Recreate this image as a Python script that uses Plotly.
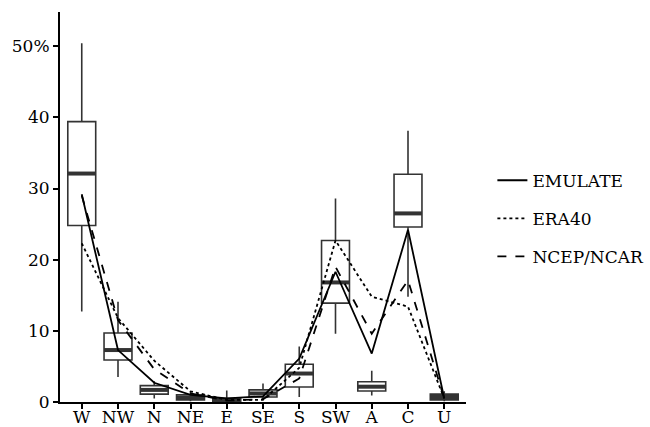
import plotly.graph_objects as go

categories = ["W", "NW", "N", "NE", "E", "SE", "S", "SW", "A", "C", "U"]

# Box statistics (percent)
box_low = [12.7, 3.5, 0.5, 0.1, 0.0, 0.3, 0.7, 9.6, 0.9, 14.8, 0.1]
box_q1 = [24.8, 5.9, 1.1, 0.3, 0.1, 0.7, 2.1, 13.9, 1.55, 24.6, 0.3]
box_med = [32.1, 7.3, 1.7, 0.6, 0.3, 1.2, 4.0, 16.8, 2.15, 26.5, 0.7]
box_q3 = [39.4, 9.7, 2.3, 1.0, 0.5, 1.7, 5.3, 22.7, 2.85, 32.0, 1.1]
box_high = [50.4, 14.1, 2.9, 1.5, 1.6, 2.6, 7.8, 28.6, 4.4, 38.1, 1.5]

# Series values (percent)
emulate = [29.2, 7.3, 2.7, 1.0, 0.5, 0.8, 6.1, 18.3, 6.8, 24.2, 0.5]
era40 = [22.3, 11.8, 5.8, 1.5, 0.3, 0.3, 4.8, 22.7, 14.8, 13.4, 0.5]
ncep = [29.0, 11.5, 4.6, 1.2, 0.2, 0.4, 3.3, 19.0, 9.6, 17.1, 0.5]

y_ticks = [0, 10, 20, 30, 40, 50]
y_ticktext = ["0", "10", "20", "30", "40", "50%"]

xs = list(range(len(categories)))
BOX_W = 0.77
FONT = "DejaVu Serif"

fig = go.Figure()

fig.add_trace(go.Box(
    x=xs, q1=box_q1, median=box_med, q3=box_q3,
    lowerfence=box_low, upperfence=box_high,
    width=BOX_W, whiskerwidth=0, boxpoints=False,
    fillcolor="white", line=dict(color="#333333", width=1.6),
    showlegend=False, hoverinfo="skip",
))

# thick median bars
mx, my = [], []
for i, m in zip(xs, box_med):
    mx += [i - BOX_W / 2, i + BOX_W / 2, None]
    my += [m, m, None]
fig.add_trace(go.Scatter(x=mx, y=my, mode="lines",
                         line=dict(color="#333333", width=4),
                         showlegend=False, hoverinfo="skip"))

for name, vals, dash, g in [("EMULATE", emulate, "solid", "a"),
                            ("ERA40", era40, "dot", "b"),
                            ("NCEP/NCAR", ncep, "dash", "c")]:
    fig.add_trace(go.Scatter(x=xs, y=vals, mode="lines", name=name,
                             legendgroup=g,
                             line=dict(color="black", width=1.8, dash=dash)))

fig.update_layout(
    width=650, height=427,
    margin=dict(l=60, r=184, t=12, b=25, autoexpand=False),
    paper_bgcolor="white", plot_bgcolor="white",
    font=dict(family=FONT, size=17, color="black"),
    showlegend=True,
    legend=dict(x=1.065, xanchor="left", y=0.47, yanchor="middle",
                font=dict(family=FONT, size=17, color="black"),
                tracegroupgap=13, bgcolor="rgba(0,0,0,0)"),
    xaxis=dict(range=[-0.6, 10.6], tickvals=xs, ticktext=categories,
               showline=True, linecolor="black", linewidth=2,
               ticks="outside", ticklen=5, tickwidth=1.5, tickcolor="black",
               showgrid=False, zeroline=False, fixedrange=True,
               automargin=False, ticklabelstandoff=-6,
               tickfont=dict(family=FONT, size=17)),
    yaxis=dict(range=[0, 54.8], tickvals=y_ticks, ticktext=y_ticktext,
               showline=True, linecolor="black", linewidth=2,
               ticks="outside", ticklen=5, tickwidth=1.5, tickcolor="black",
               showgrid=False, zeroline=False, fixedrange=True,
               automargin=False, tickfont=dict(family=FONT, size=17)),
)

fig.write_html("out.html")
